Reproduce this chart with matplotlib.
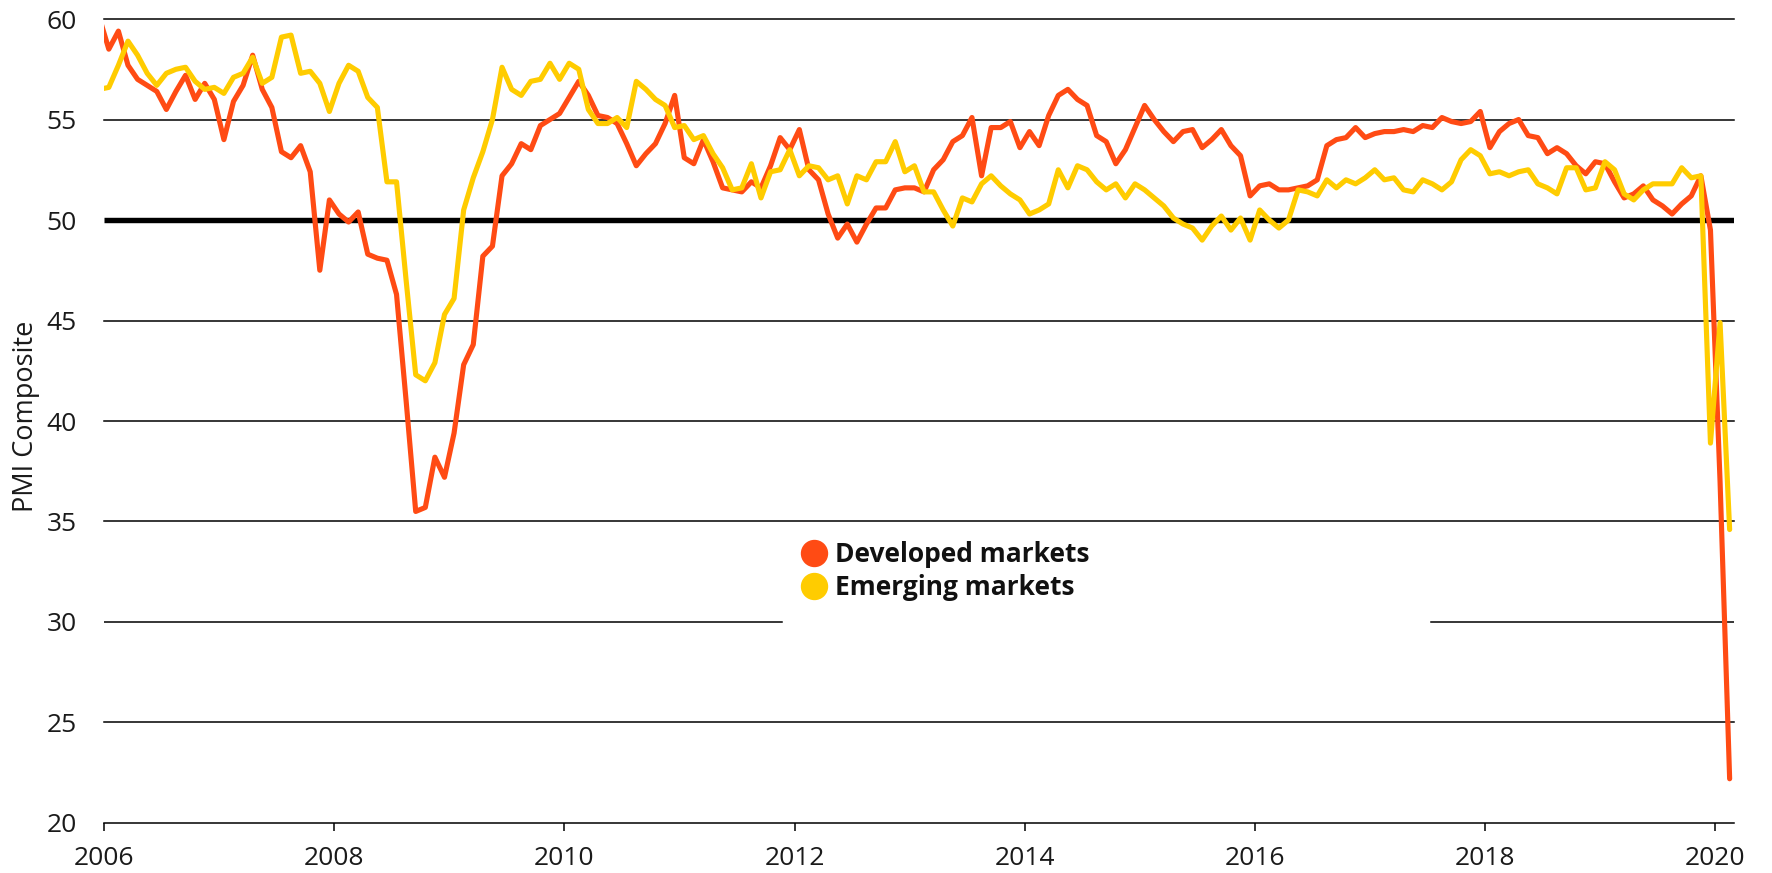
import numpy as np
import matplotlib
matplotlib.use("Agg")
import matplotlib.pyplot as plt
from matplotlib.lines import Line2D

# Monthly PMI composite readings, first value = Dec 2005 (plotted mid-month)
start_year = 2005
start_month = 12
developed = [
    60.1,
    58.5, 59.4, 57.7, 57.0, 56.7, 56.4, 55.5, 56.4, 57.2, 56.0, 56.8, 56.0,   # 2006
    54.0, 55.9, 56.7, 58.2, 56.5, 55.6, 53.4, 53.1, 53.7, 52.4, 47.5, 51.0,   # 2007
    50.3, 49.9, 50.4, 48.3, 48.1, 48.0, 46.3, 41.0, 35.5, 35.7, 38.2, 37.2,   # 2008
    39.4, 42.8, 43.8, 48.2, 48.7, 52.2, 52.8, 53.8, 53.5, 54.7, 55.0, 55.3,   # 2009
    56.1, 56.9, 56.2, 55.2, 55.1, 54.8, 53.8, 52.7, 53.3, 53.8, 54.8, 56.2,   # 2010
    53.1, 52.8, 54.0, 52.9, 51.6, 51.5, 51.4, 51.9, 51.6, 52.7, 54.1, 53.5,   # 2011
    54.5, 52.5, 52.0, 50.3, 49.1, 49.8, 48.9, 49.8, 50.6, 50.6, 51.5, 51.6,   # 2012
    51.6, 51.4, 52.5, 53.0, 53.9, 54.2, 55.1, 52.2, 54.6, 54.6, 54.9, 53.6,   # 2013
    54.4, 53.7, 55.2, 56.2, 56.5, 56.0, 55.7, 54.2, 53.9, 52.8, 53.5, 54.6,   # 2014
    55.7, 55.0, 54.4, 53.9, 54.4, 54.5, 53.6, 54.0, 54.5, 53.7, 53.2, 51.2,   # 2015
    51.7, 51.8, 51.5, 51.5, 51.6, 51.7, 52.0, 53.7, 54.0, 54.1, 54.6, 54.1,   # 2016
    54.3, 54.4, 54.4, 54.5, 54.4, 54.7, 54.6, 55.1, 54.9, 54.8, 54.9, 55.4,   # 2017
    53.6, 54.4, 54.8, 55.0, 54.2, 54.1, 53.3, 53.6, 53.3, 52.7, 52.3, 52.9,   # 2018
    52.8, 51.9, 51.1, 51.3, 51.7, 51.0, 50.7, 50.3, 50.8, 51.2, 52.2, 49.5,   # 2019
    37.0, 22.2,                                                               # 2020
]
emerging = [
    56.5,
    56.6, 57.7, 58.9, 58.2, 57.3, 56.7, 57.3, 57.5, 57.6, 56.9, 56.5, 56.6,   # 2006
    56.3, 57.1, 57.3, 58.1, 56.8, 57.1, 59.1, 59.2, 57.3, 57.4, 56.8, 55.4,   # 2007
    56.8, 57.7, 57.4, 56.1, 55.6, 51.9, 51.9, 47.0, 42.3, 42.0, 42.9, 45.3,   # 2008
    46.1, 50.5, 52.1, 53.4, 55.0, 57.6, 56.5, 56.2, 56.9, 57.0, 57.8, 57.0,   # 2009
    57.8, 57.5, 55.5, 54.8, 54.8, 55.1, 54.6, 56.9, 56.5, 56.0, 55.7, 54.6,   # 2010
    54.7, 54.0, 54.2, 53.3, 52.6, 51.5, 51.6, 52.8, 51.1, 52.4, 52.5, 53.5,   # 2011
    52.2, 52.7, 52.6, 52.0, 52.2, 50.8, 52.2, 52.0, 52.9, 52.9, 53.9, 52.4,   # 2012
    52.7, 51.4, 51.4, 50.5, 49.7, 51.1, 50.9, 51.8, 52.2, 51.7, 51.3, 51.0,   # 2013
    50.3, 50.5, 50.8, 52.5, 51.6, 52.7, 52.5, 51.9, 51.5, 51.8, 51.1, 51.8,   # 2014
    51.5, 51.1, 50.7, 50.1, 49.8, 49.6, 49.0, 49.7, 50.2, 49.5, 50.1, 49.0,   # 2015
    50.5, 50.0, 49.6, 50.0, 51.5, 51.4, 51.2, 52.0, 51.6, 52.0, 51.8, 52.1,   # 2016
    52.5, 52.0, 52.1, 51.5, 51.4, 52.0, 51.8, 51.5, 51.9, 53.0, 53.5, 53.2,   # 2017
    52.3, 52.4, 52.2, 52.4, 52.5, 51.8, 51.6, 51.3, 52.6, 52.6, 51.5, 51.6,   # 2018
    52.9, 52.5, 51.3, 51.0, 51.5, 51.8, 51.8, 51.8, 52.6, 52.1, 52.2, 38.9,   # 2019
    44.9, 34.6,                                                               # 2020
]
series_labels = ["Developed markets", "Emerging markets"]
series_colors = ["#FF4B14", "#FFCC00"]
y_ticks = [20, 25, 30, 35, 40, 45, 50, 55, 60]
x_ticks = [2006, 2008, 2010, 2012, 2014, 2016, 2018, 2020]
y_label = "PMI Composite"

FONT = ["Open Sans", "DejaVu Sans"]
plt.rcParams["font.family"] = FONT

fig = plt.figure(figsize=(17.72, 8.73), dpi=100)
ax = fig.add_axes([0.0587, 0.0573, 0.9201, 0.9209])

n = len(developed)
months = np.arange(n) + (start_month - 1)
x = start_year + (months + 0.5) / 12.0

# grid lines
for v in y_ticks[1:]:
    if v == 50:
        ax.axhline(v, color="black", lw=3.9, zorder=2, solid_capstyle="butt")
    elif v == 30:
        ax.axhline(v, xmin=0, xmax=0.4159, color="black", lw=1.1, zorder=1)
        ax.axhline(v, xmin=0.8140, xmax=1, color="black", lw=1.1, zorder=1)
    else:
        ax.axhline(v, color="black", lw=1.1, zorder=1, clip_on=False)

ax.plot(x, developed, color=series_colors[0], lw=3.7, zorder=3,
        solid_joinstyle="round", solid_capstyle="round")
ax.plot(x, emerging, color=series_colors[1], lw=3.7, zorder=4,
        solid_joinstyle="round", solid_capstyle="round")

ax.set_xlim(2006, 2020 + 2 / 12)
ax.set_ylim(20, 60)

for s in ["top", "right", "left"]:
    ax.spines[s].set_visible(False)
ax.spines["bottom"].set_linewidth(1.1)
ax.spines["bottom"].set_color("black")

ax.set_xticks(x_ticks)
ax.set_xticklabels([str(t) for t in x_ticks])
ax.set_yticks(y_ticks)
ax.set_yticklabels([str(t) for t in y_ticks])
ax.tick_params(axis="x", direction="out", length=5.8, width=1.1, color="black",
               labelsize=19, pad=10.5, labelcolor="#1a1a1a")
ax.tick_params(axis="y", length=0, labelsize=19, pad=19.5, labelcolor="#1a1a1a")

ax.set_ylabel(y_label, fontsize=19.5, color="#1a1a1a")
ax.yaxis.set_label_coords(-0.0390, 0.506)

handles = [Line2D([], [], ls="none", marker="o", markersize=18.7,
                  markerfacecolor=c, markeredgecolor=c) for c in series_colors]
leg = ax.legend(handles, series_labels, loc="upper left",
                bbox_to_anchor=(0.4276, 0.3505), frameon=False,
                borderpad=0, borderaxespad=0, handlelength=0.96,
                handletextpad=0.34, labelspacing=0.22,
                prop={"family": FONT, "weight": "bold", "size": 19})
for t in leg.get_texts():
    t.set_color("#111111")

fig.savefig("out.png", dpi=100, facecolor="white")
